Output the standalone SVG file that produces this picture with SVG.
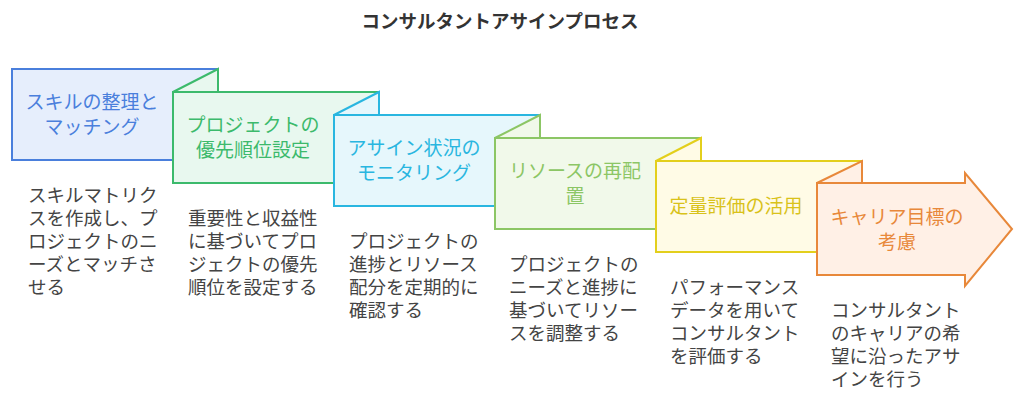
<svg xmlns="http://www.w3.org/2000/svg" width="1024" height="402" viewBox="0 0 1024 402">
<style>
text{font-family:"Noto Sans CJK JP","Noto Sans",sans-serif}
.t{font-size:19px;text-anchor:middle}
.d{font-size:18.5px;fill:#444}
.s{stroke-width:2;stroke-linejoin:miter}
</style>
<rect width="1024" height="402" fill="#fff"/>
<text x="500" y="28" text-anchor="middle" style="font-size:18.5px;font-weight:bold;fill:#333">コンサルタントアサインプロセス</text>
<g id="connectors"/>
<g id="n1"><rect x="12" y="69" width="206" height="91" fill="#e6eefc" stroke="#4a7fdc" class="s"/>
<text class="t" fill="#4a7fdc" x="92" y="109">スキルの整理と</text><text class="t" fill="#4a7fdc" x="92" y="134">マッチング</text>
<text class="d" x="28" y="202">スキルマトリク</text><text class="d" x="28" y="225">スを作成し、プ</text><text class="d" x="28" y="248">ロジェクトのニ</text><text class="d" x="28" y="271">ーズとマッチさ</text><text class="d" x="28" y="294">せる</text></g>
<g id="n2"><rect x="173" y="92" width="206" height="91" fill="#e8f8ef" stroke="#3cba6c" class="s"/><polygon points="173,92 218,69 218,92" fill="#e8f8ef" stroke="#3cba6c" class="s"/>
<text class="t" fill="#3cba6c" x="253" y="132">プロジェクトの</text><text class="t" fill="#3cba6c" x="253" y="157">優先順位設定</text>
<text class="d" x="188" y="225">重要性と収益性</text><text class="d" x="188" y="248">に基づいてプロ</text><text class="d" x="188" y="271">ジェクトの優先</text><text class="d" x="188" y="294">順位を設定する</text></g>
<g id="n3"><rect x="334" y="115" width="206" height="91" fill="#e6f7fc" stroke="#29b6e0" class="s"/><polygon points="334,115 379,92 379,115" fill="#e6f7fc" stroke="#29b6e0" class="s"/>
<text class="t" fill="#29b6e0" x="414" y="155">アサイン状況の</text><text class="t" fill="#29b6e0" x="414" y="180">モニタリング</text>
<text class="d" x="349" y="248">プロジェクトの</text><text class="d" x="349" y="271">進捗とリソース</text><text class="d" x="349" y="294">配分を定期的に</text><text class="d" x="349" y="317">確認する</text></g>
<g id="n4"><rect x="495" y="138" width="206" height="91" fill="#f1f9ea" stroke="#8cc665" class="s"/><polygon points="495,138 540,115 540,138" fill="#f1f9ea" stroke="#8cc665" class="s"/>
<text class="t" fill="#8cc665" x="575" y="178">リソースの再配</text><text class="t" fill="#8cc665" x="575" y="203">置</text>
<text class="d" x="509" y="271">プロジェクトの</text><text class="d" x="509" y="294">ニーズと進捗に</text><text class="d" x="509" y="317">基づいてリソー</text><text class="d" x="509" y="340">スを調整する</text></g>
<g id="n5"><rect x="656" y="161" width="206" height="91" fill="#fffbe6" stroke="#e3cf1c" class="s"/><polygon points="656,161 701,138 701,161" fill="#fffbe6" stroke="#e3cf1c" class="s"/>
<text class="t" fill="#d9c21a" x="736" y="213">定量評価の活用</text>
<text class="d" x="670" y="294">パフォーマンス</text><text class="d" x="670" y="317">データを用いて</text><text class="d" x="670" y="340">コンサルタント</text><text class="d" x="670" y="363">を評価する</text></g>
<g id="n6"><polygon points="817,183 965,183 965,173 1012,229 965,286 965,275 817,275" fill="#fff0e6" stroke="#e8883a" class="s"/><polygon points="817,183 862,161 862,183" fill="#fff0e6" stroke="#e8883a" class="s"/>
<text class="t" fill="#e8883a" x="897" y="224">キャリア目標の</text><text class="t" fill="#e8883a" x="897" y="249">考慮</text>
<text class="d" x="831" y="317">コンサルタント</text><text class="d" x="831" y="340">のキャリアの希</text><text class="d" x="831" y="363">望に沿ったアサ</text><text class="d" x="831" y="386">インを行う</text></g>
</svg>
